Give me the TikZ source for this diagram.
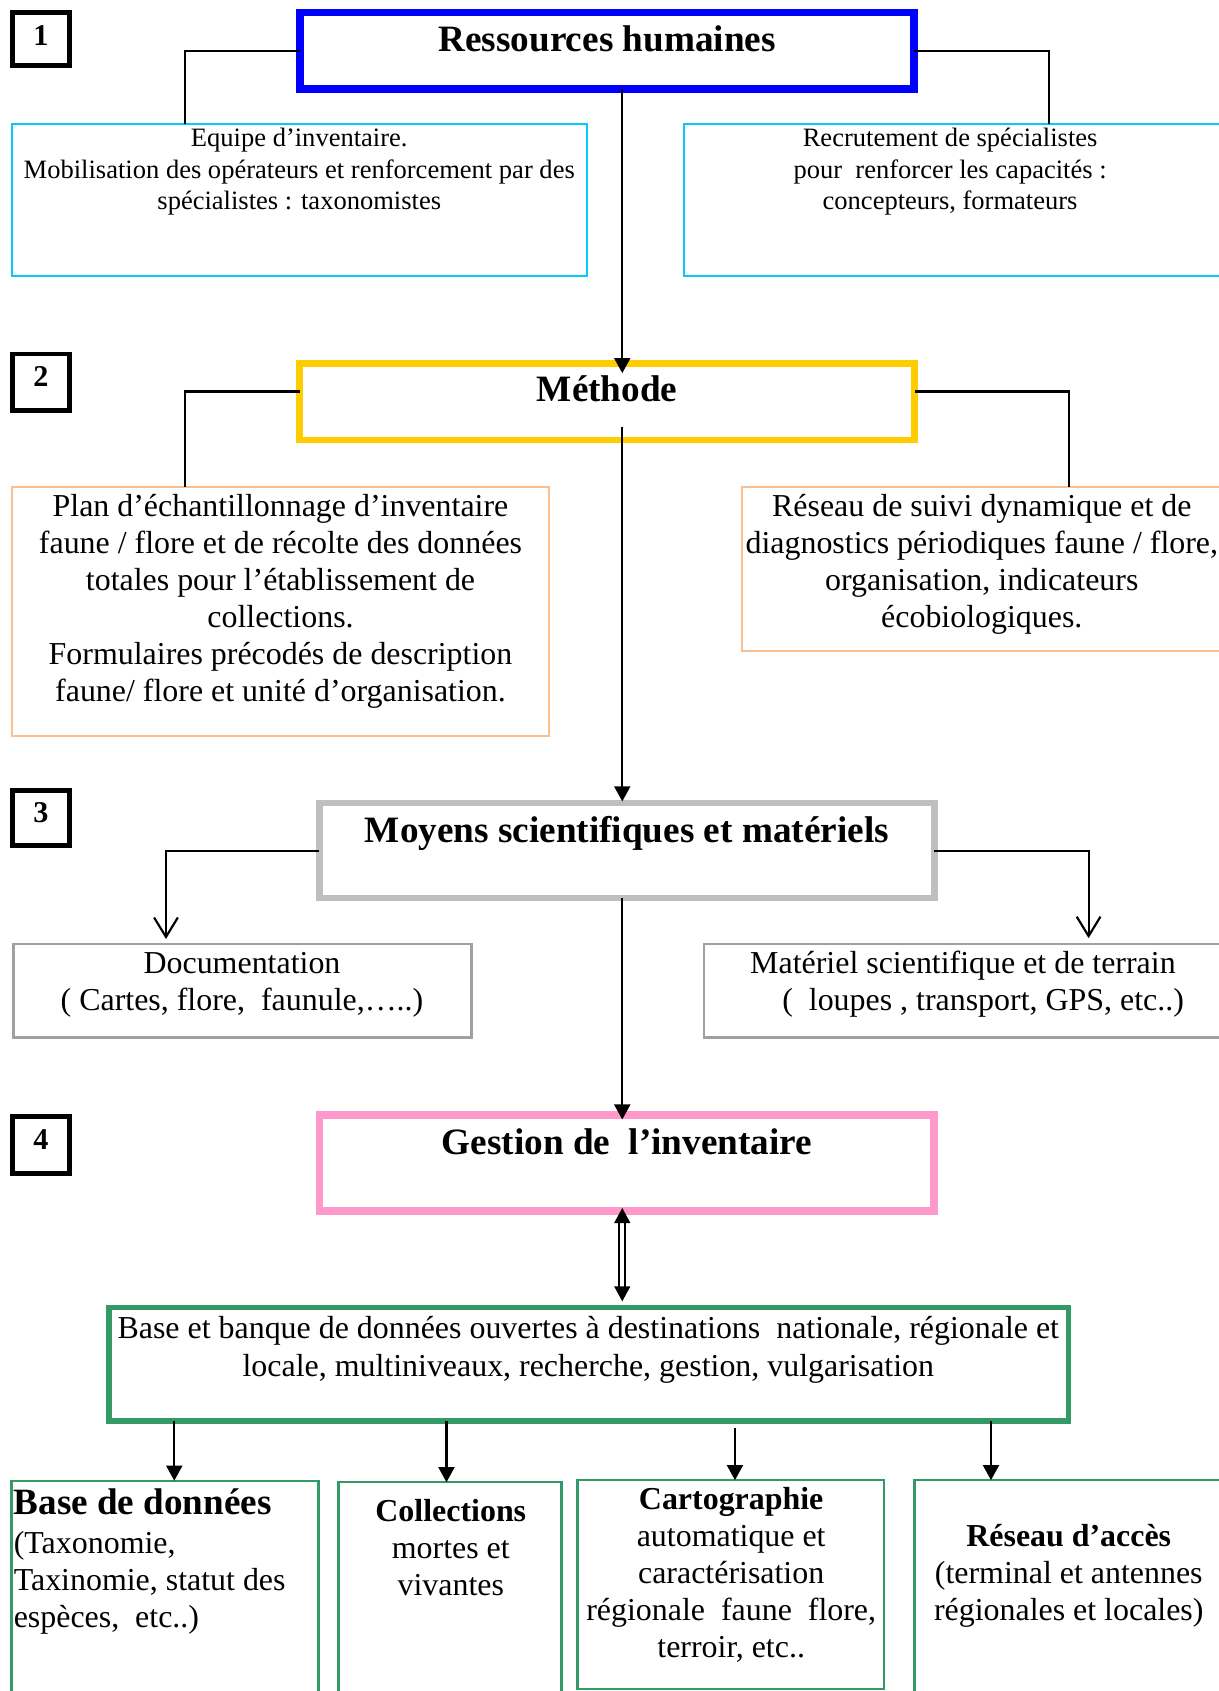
\documentclass[tikz,border=0pt]{standalone}
\usepackage{fontspec}
\setmainfont{Liberation Serif}
\usetikzlibrary{arrows.meta,fit,calc}

\definecolor{rhblue}{RGB}{0,0,255}
\definecolor{teamcyan}{RGB}{0,204,255}
\definecolor{methgold}{RGB}{255,204,0}
\definecolor{peach}{RGB}{250,192,144}
\definecolor{meangray}{RGB}{191,191,191}
\definecolor{docgray}{RGB}{160,160,160}
\definecolor{gestpink}{RGB}{255,153,204}
\definecolor{dbgreen}{RGB}{51,153,102}

% rows of text whose first baseline is the box baseline
\newcommand{\txtrows}[2]{\begin{tabular}[t]{@{}#1@{}}#2\end{tabular}}

\begin{document}
\begin{tikzpicture}[x=0.5pt,y=-0.5pt,
  frame/.style={draw, inner sep=0pt, outer sep=0pt},
  lbl/.style={inner sep=0pt, outer sep=0pt, anchor=base},
  smalltext/.style={font=\fontsize{12.3pt}{14.65pt}\selectfont},
  bodytext/.style={font=\fontsize{14.8pt}{17.15pt}\selectfont},
  greentext/.style={font=\fontsize{14.8pt}{17.75pt}\selectfont},
  titletext/.style={font=\fontsize{17.25pt}{20pt}\selectfont\bfseries},
  digittext/.style={font=\fontsize{14pt}{16pt}\selectfont\bfseries},
  numbox/.style={frame, line width=2.25pt},
  conn/.style={line width=1pt},
  arr/.style={conn, -{Triangle[length=7pt,width=7.4pt]}},
  openarr/.style={conn, -{Straight Barb[length=9pt,width=11pt]}},
  dblarr/.style={line width=0.75pt, double distance=2pt,
    {Triangle[length=7pt,width=7.4pt]}-{Triangle[length=7pt,width=7.4pt]}},
]
\useasboundingbox (0,0) rectangle (1130,1568);
\fill[white] (0,0) rectangle (1130,1568);

% ---- step numbers
\node[numbox, fit={(11.2,11.5) (64.8,61.1)}] (n1) {};
\node[numbox, fit={(11.2,328.2) (64.8,380.8)}] (n2) {};
\node[numbox, fit={(11.2,733) (64.8,784.2)}] (n3) {};
\node[numbox, fit={(11.2,1034.9) (64.8,1087.8)}] (n4) {};
\node[lbl, digittext] (d1) at (38,42.5) {1};
\node[lbl, digittext] (d2) at (38,358.5) {2};
\node[lbl, digittext] (d3) at (38,762.5) {3};
\node[lbl, digittext] (d4) at (38,1065.5) {4};

% ---- 1. human resources
\node[frame, draw=rhblue, line width=3.55pt, fit={(278.3,11.5) (847.5,82.5)}] (rh) {};
\node[lbl, titletext] (rht) at (563,48) {Ressources humaines};
\node[frame, draw=teamcyan, line width=0.9pt, fit={(11.5,115) (544.5,256)}] (cyanL) {};
\node[frame, draw=teamcyan, line width=0.9pt, fit={(634.5,115) (1140,256)}] (cyanR) {};
\node[lbl, smalltext] (cyanLt) at (277.5,136) {\txtrows{c}{Equipe d’inventaire.\\
  Mobilisation des opérateurs et renforcement par des\\
  spécialistes : taxonomistes}};
\node[lbl, smalltext] (cyanRt) at (881,136) {\txtrows{c}{Recrutement de spécialistes\\
  pour\ \ renforcer les capacités :\\
  concepteurs, formateurs}};

% ---- 2. method
\node[frame, draw=methgold, line width=3.1pt, fit={(278,336.8) (848,408)}] (meth) {};
\node[lbl, titletext] (metht) at (563,372.3) {Méthode};
\node[frame, draw=peach, line width=0.9pt, fit={(11.5,451.5) (509,682.5)}] (peachL) {};
\node[frame, draw=peach, line width=0.9pt, fit={(688,451.5) (1140,604)}] (peachR) {};
\node[lbl, bodytext] (peachLt) at (260.1,479) {\txtrows{c}{Plan d’échantillonnage d’inventaire\\
  faune / flore et de récolte des données\\
  totales pour l’établissement de\\
  collections.\\
  Formulaires précodés de description\\
  faune/ flore et unité d’organisation.}};
\node[lbl, bodytext] (peachRt) at (910.4,479) {\txtrows{c}{Réseau de suivi dynamique et de\\
  diagnostics périodiques faune / flore,\\
  organisation, indicateurs\\
  écobiologiques.}};

% ---- 3. scientific and material means
\node[frame, draw=meangray, line width=3.1pt, fit={(296.2,744.7) (866.4,832.7)}] (moy) {};
\node[lbl, titletext] (moyt) at (581.3,781) {Moyens scientifiques et matériels};
\node[frame, draw=docgray, line width=1.25pt, fit={(12.3,875.3) (437.2,962.1)}] (doc) {};
\node[frame, draw=docgray, line width=1.25pt, fit={(652.8,875.3) (1140,962.1)}] (mat) {};
\node[lbl, bodytext] (doct) at (224.4,903) {\txtrows{c}{Documentation\\
  ( Cartes, flore,\ \ faunule,…..)}};
\node[lbl, bodytext] (matt) at (892.9,903) {\txtrows{c}{Matériel scientifique et de terrain\\
  \hspace*{18.7pt}(\ \ loupes , transport, GPS, etc..)}};

% ---- 4. inventory management
\node[frame, draw=gestpink, line width=3.4pt, fit={(296.5,1033.9) (866.1,1122.9)}] (gest) {};
\node[lbl, titletext] (gestt) at (581.3,1070.7) {Gestion de\ \ l’inventaire};
\node[frame, draw=dbgreen, line width=2.6pt, fit={(100.8,1212.3) (990.7,1317.7)}] (green) {};
\node[lbl, greentext] (greent) at (545.5,1241) {\txtrows{c}{Base et banque de données ouvertes à destinations\ \ nationale, régionale et\\
  locale, multiniveaux, recherche, gestion, vulgarisation}};

% ---- outputs
\node[frame, draw=dbgreen, line width=1.1pt, fit={(10.8,1373) (295.4,1600)}] (bA) {};
\node[frame, draw=dbgreen, line width=1.1pt, fit={(313.8,1374.4) (520.5,1600)}] (bB) {};
\node[frame, draw=dbgreen, line width=1.1pt, fit={(535.5,1372.5) (819.5,1566)}] (bC) {};
\node[frame, draw=dbgreen, line width=1.1pt, fit={(848,1372.5) (1140,1600)}] (bD) {};
\node[lbl, bodytext, anchor=base west] (bAt) at (12.8,1404.4) {\txtrows{l}{{\fontsize{17.2pt}{20pt}\selectfont\bfseries Base de données}\\[1pt]
  (Taxonomie,\\
  Taxinomie, statut des\\
  espèces,\ \ etc..)}};
\node[lbl, bodytext] (bBt) at (418,1410.5) {\txtrows{c}{\textbf{Collections}\\
  mortes et\\
  vivantes}};
\node[lbl, bodytext] (bCt) at (678,1399.7) {\txtrows{c}{\textbf{Cartographie}\\
  automatique et\\
  caractérisation\\
  régionale\ \ faune\ \ flore,\\
  terroir, etc..}};
\node[lbl, bodytext] (bDt) at (991,1433.7) {\txtrows{c}{\textbf{Réseau d’accès}\\
  (terminal et antennes\\
  régionales et locales)}};

% ---- tap positions of the connectors
\coordinate (trunk) at (577,0);
\coordinate (tapL) at (171.5,0);
\coordinate (tapR) at (973,0);
\coordinate (tapML) at (171.5,0);
\coordinate (tapMR) at (991,0);
\coordinate (tapDoc) at (153.9,0);
\coordinate (tapMat) at (1009.4,0);
\coordinate (xA) at (161.6,0);
\coordinate (xB) at (414,0);
\coordinate (xC) at (681.5,0);
\coordinate (xD) at (918.9,0);

% ---- connectors
\draw[conn] (rh.west) -| (cyanL.north -| tapL);
\draw[conn] (rh.east) -| (cyanR.north -| tapR);
\draw[arr, shorten >=-4.6pt] (rh.south -| trunk) -- (meth.north -| trunk);
\draw[conn] ([yshift=4.7pt]meth.west) -| (peachL.north -| tapML);
\draw[conn] ([yshift=4.7pt]meth.east) -| (peachR.north -| tapMR);
\draw[arr, shorten <=-6.25pt, shorten >=0.8pt] (meth.south -| trunk) -- (moy.north -| trunk);
\draw[openarr, shorten >=2.3pt] (moy.west) -| (doc.north -| tapDoc);
\draw[openarr, shorten >=2.7pt] (moy.east) -| (mat.north -| tapMat);
\draw[arr, shorten >=-2.1pt] (moy.south -| trunk) -- (gest.north -| trunk);
\draw[dblarr, shorten <=-1.4pt, shorten >=2.8pt] (gest.south -| trunk) -- (green.north -| trunk);
\draw[arr] (green.south -| xA) -- (bA.north -| xA);
\draw[arr] (green.south -| xB) -- (bB.north -| xB);
\draw[arr, shorten <=3.2pt] (green.south -| xC) -- (bC.north -| xC);
\draw[arr] (green.south -| xD) -- (bD.north -| xD);
\end{tikzpicture}
\end{document}
